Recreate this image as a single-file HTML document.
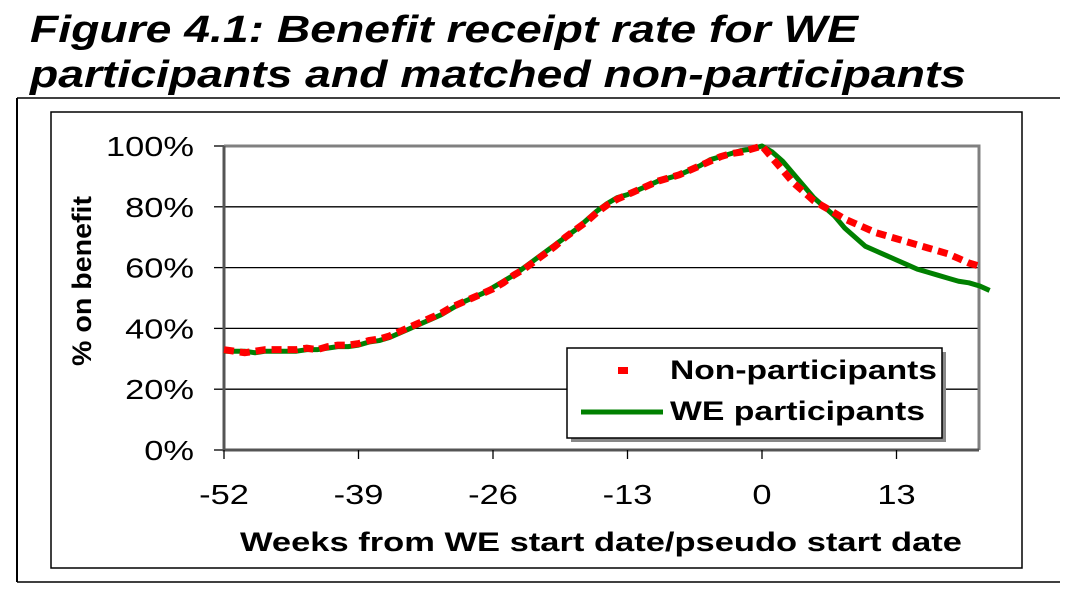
<!DOCTYPE html>
<html><head><meta charset="utf-8"><style>
html,body{margin:0;padding:0;background:#fff;width:1065px;height:608px;overflow:hidden}
svg text{font-family:"Liberation Sans",Arial,sans-serif;fill:#000}
</style></head><body>
<svg id="c" width="1065" height="608" viewBox="0 0 1065 608">
<text x="30" y="42" font-size="38" font-weight="bold" font-style="italic" textLength="828" lengthAdjust="spacingAndGlyphs">Figure 4.1: Benefit receipt rate for WE</text>
<text x="30" y="87" font-size="38" font-weight="bold" font-style="italic" textLength="936" lengthAdjust="spacingAndGlyphs">participants and matched non-participants</text>
<line x1="17" y1="98" x2="1060" y2="98" stroke="#000" stroke-width="1.5"/>
<line x1="17" y1="98" x2="17" y2="582" stroke="#000" stroke-width="2"/>
<line x1="17" y1="582" x2="1060" y2="582" stroke="#000" stroke-width="1.5"/>
<rect x="51" y="112" width="971" height="456" fill="none" stroke="#000" stroke-width="1.5"/>
<g id="grid"></g>
<g id="axes"></g>
<g id="series"></g>
<text x="0" y="0" transform="translate(91,281) rotate(-90)" font-size="27" font-weight="bold" text-anchor="middle" textLength="170" lengthAdjust="spacingAndGlyphs">% on benefit</text>
<text x="240" y="551" font-size="27" font-weight="bold" textLength="722" lengthAdjust="spacingAndGlyphs">Weeks from WE start date/pseudo start date</text>
<g>
<rect x="571" y="352" width="375" height="90" fill="#888"/>
<rect x="567" y="348" width="375" height="90" fill="#fff" stroke="#000" stroke-width="1.5"/>
<rect x="618" y="367" width="10" height="7" fill="#f00"/>
<text x="670" y="379" font-size="27" font-weight="bold" textLength="267" lengthAdjust="spacingAndGlyphs">Non-participants</text>
<line x1="581" y1="412" x2="663" y2="412" stroke="#008000" stroke-width="5"/>
<text x="670" y="420" font-size="27" font-weight="bold" textLength="255" lengthAdjust="spacingAndGlyphs">WE participants</text>
</g>
</svg>
<script>
const weeks=[];for(let w=-52;w<=22;w++)weeks.push(w);
const yTicks=[0,20,40,60,80,100];
const xTicks=[-52,-39,-26,-13,0,13];
const weParticipants=[32.5,32.5,32.5,32,32.5,32.5,32.5,32.5,33,33,33.5,34,34,34.5,35.5,36,37,38.5,40,41.5,43,44.5,46.5,48.5,50,51.5,53.5,55.5,57.5,60,62.5,65,67.5,70,72.5,75.5,78.5,81,83,84,85.5,87,88.5,89.5,90.5,92,93.5,95.5,96.5,97.5,98.5,99,100,98,95,91,87,83,80,77,73,70,67,65.5,64,62.5,61,59.5,58.5,57.5,56.5,55.5,55,54,52.5];
const nonParticipants=[33,32.5,32,32.5,33,33,33,33,33.5,33,34,34.5,34.5,35,36,36.5,37.5,39,40.5,42,43.5,45,47,48.5,50,51.5,53,55,57.5,59.5,62,64.5,67,70,72.5,75,78,80.5,82.5,84,85.5,87,88.5,89.5,90.5,92,93.5,95,96.5,97.5,98,99,100,96,92,88,85,82,80,78,76,74.5,73,71.5,70.5,69.5,68.5,67.5,66.5,65.5,64.5,63,61.5,60.5];
const L=224,R=979,T=146,B=450;
const xs=w=>L+(w+52)*(762-224)/52;
const ys=v=>B-v*(B-T)/100;
const NS="http://www.w3.org/2000/svg";
function mk(tag,attrs,parent){const e=document.createElementNS(NS,tag);for(const k in attrs)e.setAttribute(k,attrs[k]);document.getElementById(parent).appendChild(e);return e;}
yTicks.forEach(v=>{
 if(v>0&&v<100){const g=mk('line',{x1:L,x2:R,y1:ys(v),y2:ys(v),stroke:'#000','stroke-width':1.3},'grid');
 
 }
 const t=mk('line',{x1:L-10,x2:L,y1:ys(v),y2:ys(v),stroke:'#000','stroke-width':1.3},'axes');
 
 
 const lb=mk('text',{x:0,y:0,transform:`translate(194,${ys(v)+10}) scale(1.23,1)`,'font-size':28,'text-anchor':'end'},'axes');lb.textContent=v+'%';
 
 
});
const pb=mk('path',{d:`M${L},${T}H${R}V${B}`,fill:'none',stroke:'#808080','stroke-width':3},'axes');


const ax=mk('path',{d:`M${L},${T}V${B}H${R}`,fill:'none',stroke:'#555','stroke-width':3},'axes');


xTicks.forEach(w=>{
 const t=mk('line',{x1:xs(w),x2:xs(w),y1:B,y2:B+9,stroke:'#000','stroke-width':1.3},'axes');
 
 
 const lb=mk('text',{x:0,y:0,transform:`translate(${xs(w)},504) scale(1.23,1)`,'font-size':28,'text-anchor':'middle'},'axes');lb.textContent=w;
 
 
});
const gp=mk('polyline',{points:weeks.map((w,i)=>xs(w)+','+ys(weParticipants[i])).join(' '),fill:'none',stroke:'#008000','stroke-width':5,'stroke-linejoin':'round'},'series');


const rp=mk('polyline',{points:nonParticipants.map((v,i)=>xs(weeks[i])+','+ys(v)).join(' '),fill:'none',stroke:'#f00','stroke-width':7,'stroke-dasharray':'10 6'},'series');


</script>
</body></html>
